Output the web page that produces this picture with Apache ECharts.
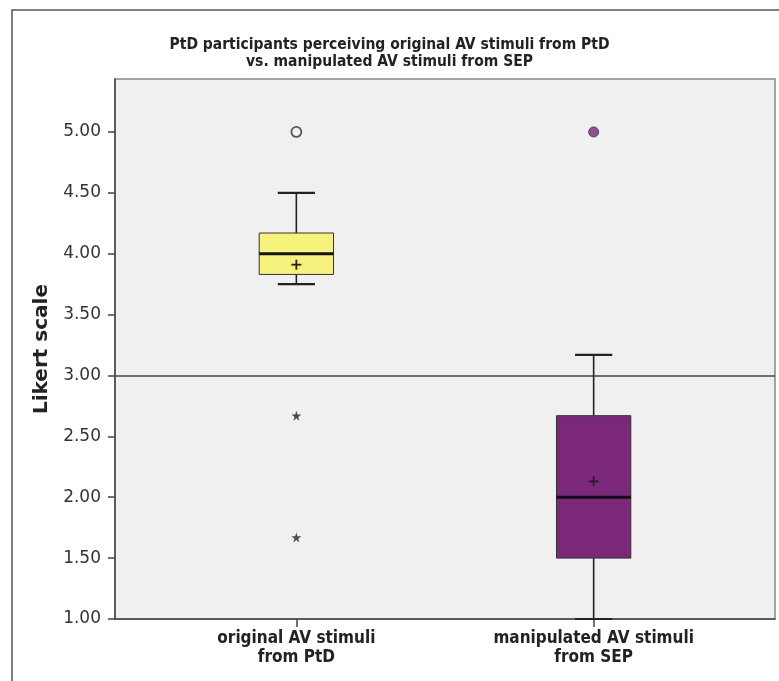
<!DOCTYPE html>
<html>
<head>
<meta charset="utf-8">
<script src="https://cdn.jsdelivr.net/npm/echarts@6/dist/echarts.min.js"></script>
<style>
html,body{margin:0;padding:0;background:#fff;}
#chart{width:779px;height:681px;}
</style>
</head>
<body>
<div id="chart"></div>
<script>
// ---- data ----
const titleText = 'PtD participants perceiving original AV stimuli from PtD\nvs. manipulated AV stimuli from SEP';
const yAxisName = 'Likert scale';
const categories = ['original AV stimuli\nfrom PtD', 'manipulated AV stimuli\nfrom SEP'];
const categoryPos = [1, 2];
const whiskerLow = [3.75, 1.00];
const quartile1 = [3.83, 1.50];
const medians = [4.00, 2.00];
const quartile3 = [4.17, 2.67];
const whiskerHigh = [4.50, 3.17];
const means = [3.91, 2.13];
const openOutliers = [[1, 5.00]];
const filledOutliers = [[2, 5.00]];
const extremeOutliers = [[1, 2.67], [1, 1.67]];
const referenceValue = 3.00;
const yTicks = [1.00, 1.50, 2.00, 2.50, 3.00, 3.50, 4.00, 4.50, 5.00];

// ---- build ----
const boxColors = ['#f6f27c', '#7b287b'];
const boxData = categoryPos.map((x, i) => [x, whiskerLow[i], quartile1[i], medians[i], quartile3[i], whiskerHigh[i], means[i]]);
const starPath = 'path://M50,0 L61,35 L98,35 L68,57 L79,91 L50,70 L21,91 L32,57 L2,35 L39,35 Z';
const labelFont = '"DejaVu Sans Condensed", "DejaVu Sans", sans-serif';
const titleFont = '"Liberation Sans Narrow", "DejaVu Sans Condensed", sans-serif';

const chart = echarts.init(document.getElementById('chart'), null, {renderer: 'canvas'});
chart.setOption({
  animation: false,
  backgroundColor: '#ffffff',
  title: {
    text: titleText,
    left: 'center',
    top: 31,
    textStyle: {fontFamily: titleFont, fontSize: 15.5, fontWeight: 'bold', color: '#222', lineHeight: 17}
  },
  graphic: [{
    type: 'rect', shape: {x: 12, y: 10, width: 800, height: 700},
    style: {fill: 'none', stroke: '#555', lineWidth: 1.5}, silent: true, z: -10
  }],
  grid: {
    left: 115, right: 4, top: 79, bottom: 62,
    show: true, backgroundColor: '#f0f0f0', borderColor: '#888', borderWidth: 1.5
  },
  xAxis: {
    type: 'value', min: 0.39, max: 2.61,
    splitLine: {show: false},
    axisLine: {show: true, onZero: false, lineStyle: {color: '#444', width: 1.5}},
    axisTick: {show: true, customValues: categoryPos, length: 8, lineStyle: {color: '#444', width: 1.5}},
    axisLabel: {
      customValues: categoryPos, margin: 10,
      formatter: v => categories[categoryPos.indexOf(v)] || '',
      fontFamily: labelFont, fontSize: 17, fontWeight: 'bold', color: '#222', lineHeight: 19
    }
  },
  yAxis: {
    type: 'value', min: 1, max: 5.435,
    name: yAxisName, nameLocation: 'middle', nameGap: 62,
    nameTextStyle: {fontFamily: '"DejaVu Sans", sans-serif', fontSize: 20, fontWeight: 'bold', color: '#222'},
    splitLine: {show: false},
    axisLine: {show: true, lineStyle: {color: '#444', width: 1.5}},
    axisTick: {show: true, customValues: yTicks, length: 7, lineStyle: {color: '#444', width: 1.5}},
    axisLabel: {
      customValues: yTicks, margin: 14,
      formatter: v => v.toFixed(2),
      fontFamily: '"DejaVu Sans", sans-serif', fontSize: 17, color: '#333'
    }
  },
  series: [
    {
      type: 'scatter', data: [], silent: true,
      markLine: {
        silent: true, symbol: 'none', label: {show: false},
        lineStyle: {color: '#444', width: 1.5, type: 'solid'},
        data: [{yAxis: referenceValue}]
      }
    },
    {
      type: 'custom', data: boxData, silent: true, z: 5,
      renderItem: function (params, api) {
        const x = api.value(0);
        const lo = api.coord([x, api.value(1)]);
        const p1 = api.coord([x, api.value(2)]);
        const pm = api.coord([x, api.value(3)]);
        const p3 = api.coord([x, api.value(4)]);
        const hi = api.coord([x, api.value(5)]);
        const mn = api.coord([x, api.value(6)]);
        const w = api.size([0.25, 0])[0];
        const cap = w / 2;
        const cx = lo[0];
        const lineStyle = {stroke: '#222', lineWidth: 1.6};
        return {
          type: 'group',
          children: [
            {type: 'line', shape: {x1: cx, y1: p3[1], x2: cx, y2: hi[1]}, style: lineStyle},
            {type: 'line', shape: {x1: cx, y1: p1[1], x2: cx, y2: lo[1]}, style: lineStyle},
            {type: 'line', shape: {x1: cx - cap / 2, y1: hi[1], x2: cx + cap / 2, y2: hi[1]}, style: {stroke: '#222', lineWidth: 2.2}},
            {type: 'line', shape: {x1: cx - cap / 2, y1: lo[1], x2: cx + cap / 2, y2: lo[1]}, style: {stroke: '#222', lineWidth: 2.2}},
            {type: 'rect', shape: {x: cx - w / 2, y: p3[1], width: w, height: p1[1] - p3[1]},
              style: {fill: boxColors[params.dataIndex], stroke: '#333', lineWidth: 1}},
            {type: 'line', shape: {x1: cx - w / 2, y1: pm[1], x2: cx + w / 2, y2: pm[1]}, style: {stroke: '#111', lineWidth: 3}},
            {type: 'line', shape: {x1: cx - 5, y1: mn[1], x2: cx + 5, y2: mn[1]}, style: {stroke: '#222', lineWidth: 1.8}},
            {type: 'line', shape: {x1: cx, y1: mn[1] - 5, x2: cx, y2: mn[1] + 5}, style: {stroke: '#222', lineWidth: 1.8}}
          ]
        };
      }
    },
    {
      type: 'scatter', data: openOutliers, symbol: 'circle', symbolSize: 10, z: 6, silent: true,
      itemStyle: {color: '#f0f0f0', borderColor: '#333', borderWidth: 1.8}
    },
    {
      type: 'scatter', data: filledOutliers, symbol: 'circle', symbolSize: 10, z: 6, silent: true,
      itemStyle: {color: '#7b287b', borderColor: '#333', borderWidth: 1}
    },
    {
      type: 'scatter', data: extremeOutliers, symbol: starPath, symbolSize: 10, z: 6, silent: true,
      itemStyle: {color: '#222'}
    }
  ]
});
</script>
</body>
</html>
